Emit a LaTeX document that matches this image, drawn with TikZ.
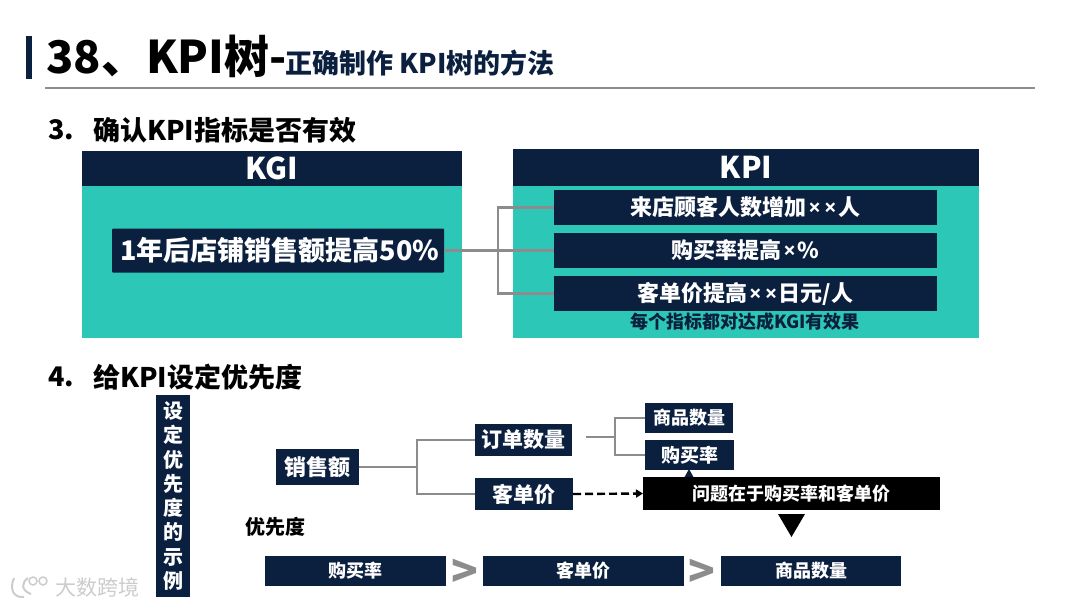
\documentclass[tikz,border=0pt]{standalone}
\usepackage{fontspec}
\setmainfont{Noto Sans CJK SC}
\newfontfamily\latinfont{Open Sans}
\usetikzlibrary{arrows.meta}
\definecolor{navy}{HTML}{0B1F3F}
\definecolor{teal}{HTML}{2CC7B7}
\definecolor{linegray}{HTML}{8C8C8C}
\definecolor{markgray}{HTML}{CCCCCC}
\newcommand{\fs}[1]{\fontsize{#1}{#1}\bfseries\selectfont}
\newcommand{\mult}{\hspace{1.5pt}{\latinfont\bfseries ×}\hspace{1.5pt}}
\begin{document}
\begin{tikzpicture}[x=1pt, y=-1pt,
    navybox/.style={fill=navy, text=white, inner sep=0pt, outer sep=0pt},
    tealbox/.style={fill=teal, inner sep=0pt, outer sep=0pt},
    heading/.style={anchor=west, inner sep=0pt, text=black},
    wire/.style={draw=linegray, line width=2.6pt},
    gt/.style={inner sep=0pt, text=linegray, font=\fs{44}}]
  \useasboundingbox (0, 0) rectangle (1080, 608);

  % title
  \fill[navy] (26, 36) rectangle (32, 79);
  \node[heading, font=\fs{45}] (title) at (46, 56) {38、KPI树-};
  \node[heading, text=navy, font=\fs{27}] (subtitle) at (285, 63) {正确制作 KPI树的方法};
  \coordinate (ruleleft) at (45, 88);
  \coordinate (ruleright) at (1035, 88);
  \draw[linegray, line width=1.6pt] (ruleleft) -- (ruleright);

  % part 3
  \node[heading, font=\fs{27}] (head3) at (48, 130) {3.};
  \node[heading, font=\fs{27}] (head3b) at (93, 130) {确认KPI指标是否有效};

  \node[tealbox, minimum width=380, minimum height=152] (kgibody) at (272, 262) {};
  \node[navybox, minimum width=380, minimum height=35, font=\fs{30}] (kgi) at (272, 168.5) {KGI};
  \node[tealbox, minimum width=466, minimum height=152] (kpibody) at (746, 262) {};
  \node[navybox, minimum width=466, minimum height=37, font=\fs{30}] (kpi) at (746, 167.5) {KPI};

  \node[navybox, minimum width=332, minimum height=44, rounded corners=1pt, font=\fs{27}] (sales) at (278, 250.5) {\hspace*{4pt}1年后店铺销售额提高50\%};
  \node[navybox, minimum width=383, minimum height=35, font=\fs{22}] (visitors) at (745.5, 207.5) {来店顾客人数增加\mult\mult 人};
  \node[navybox, minimum width=383, minimum height=35, font=\fs{22}] (rate) at (745.5, 250.5) {购买率提高\mult\%};
  \node[navybox, minimum width=383, minimum height=35, font=\fs{22}] (price) at (745.5, 293.5) {客单价提高\mult\mult 日元/人};
  \node[inner sep=0pt, text=navy, font=\fs{18}] (note) at (745, 322) {每个指标都对达成KGI有效果};

  \coordinate (kgijoint) at (498, 250);
  \draw[wire] (sales.east) -- (rate.west);
  \draw[wire] (visitors.west) -- (kgijoint |- visitors.west) -- (kgijoint |- price.west) -- (price.west);

  % part 4
  \node[heading, font=\fs{27}] (head4) at (48, 377) {4.};
  \node[heading, font=\fs{27}] (head4b) at (93, 377) {给KPI设定优先度};

  \node[navybox, minimum width=34, minimum height=202, align=center, font=\fontsize{20}{24.3}\bfseries\selectfont] (example) at (173, 496)
    {设\\定\\优\\先\\度\\的\\示\\例};

  \node[navybox, minimum width=83, minimum height=36, font=\fs{22}] (turnover) at (317.5, 467) {销售额};
  \node[navybox, minimum width=97, minimum height=32, font=\fs{21}] (orders) at (523.5, 440) {订单数量};
  \node[navybox, minimum width=98, minimum height=32, font=\fs{21}] (unitprice) at (524, 494) {客单价};
  \node[navybox, minimum width=88, minimum height=30, font=\fs{18}] (items) at (689, 418) {商品数量};
  \node[navybox, minimum width=89, minimum height=30, font=\fs{19}] (buyrate) at (689.5, 455) {购买率};
  \fill[navy] (684, 478) -- (689, 469) -- (694, 478) -- cycle;
  \node[fill=black, text=white, inner sep=0pt, outer sep=0pt, minimum width=297, minimum height=33, font=\fs{18}] (problem) at (791.5, 493.5) {问题在于购买率和客单价};

  \coordinate (salesjoint) at (417, 467);
  \draw[wire] (turnover.east) -- (salesjoint);
  \draw[wire] (orders.west) -- (salesjoint |- orders.west) -- (salesjoint |- unitprice.west) -- (unitprice.west);

  \coordinate (orderout) at (586, 437);
  \coordinate (orderjoint) at (615, 437);
  \draw[wire] (orderout) -- (orderjoint);
  \draw[wire] (items.west) -- (orderjoint |- items.west) -- (orderjoint |- buyrate.west) -- (buyrate.west);

  \draw[black, line width=2.4pt, dash pattern=on 8pt off 4pt, -{Triangle[length=7pt, width=8pt]}] (unitprice.east) -- (problem.west);

  \fill[black] (778, 514) -- (805, 514) -- (791.5, 537) -- cycle;

  \node[heading, font=\fs{20}] (priority) at (245, 527) {优先度};

  \node[navybox, minimum width=181, minimum height=30, font=\fs{18}] (first) at (355.5, 571) {购买率};
  \node[navybox, minimum width=201, minimum height=30, font=\fs{18}] (second) at (583.5, 571) {客单价};
  \node[navybox, minimum width=180, minimum height=30, font=\fs{18}] (third) at (811, 571) {商品数量};
  \node[gt] (gt1) at (464.5, 573) {>};
  \node[gt] (gt2) at (702, 573) {>};

  % watermark
  \draw[markgray, line width=2pt] (14, 578) .. controls (9, 590) and (14, 598) .. (24, 597);
  \draw[markgray, line width=2pt] (28, 578) .. controls (22, 582) and (20, 590) .. (31, 594);
  \draw[markgray, line width=1.5pt] (33, 581) circle (4);
  \draw[markgray, line width=1.5pt] (43, 581) circle (4);
  \node[heading, text=markgray, font=\fontsize{21}{21}\selectfont] (mark) at (55, 587) {大数跨境};
\end{tikzpicture}
\end{document}
